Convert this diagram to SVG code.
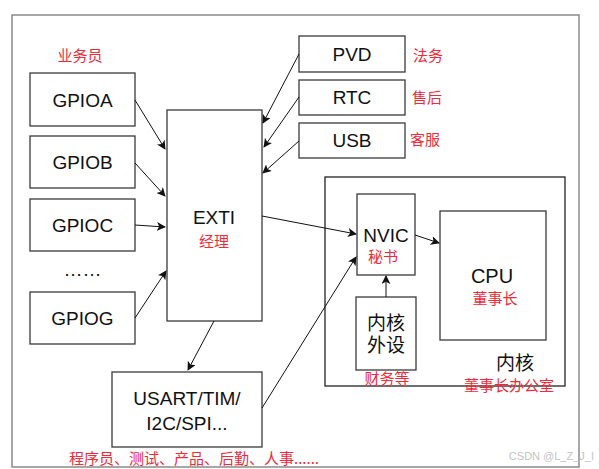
<svg xmlns="http://www.w3.org/2000/svg" width="599" height="469" viewBox="0 0 599 469">
<style>
.box{fill:#fff;stroke:#3a3a3a;stroke-width:1.3}
.t{font-family:"Liberation Sans","Noto Sans CJK SC",sans-serif;font-size:19px;fill:#111;text-anchor:middle}
.r{font-family:"Noto Sans CJK SC","Liberation Sans",sans-serif;font-size:15px;fill:#ee2b3b;text-anchor:middle}
.c{stroke:#111;stroke-width:1;fill:none;marker-end:url(#ah)}
</style>
<defs>
<marker id="ah" viewBox="0 0 10 10" refX="9" refY="5" markerWidth="9" markerHeight="9" markerUnits="userSpaceOnUse" orient="auto">
<path d="M0,0 L10,5 L0,10 L2.5,5 z" fill="#111"/>
</marker>
</defs>
<rect width="599" height="469" fill="#fff"/>
<rect id="frame" x="12" y="15" width="567" height="452" fill="none" stroke="#8a8a8a" stroke-width="1.5"/>
<g id="core-area">
<rect x="325" y="177" width="240" height="209" fill="none" stroke="#222" stroke-width="1.3"/>
<text class="t" x="515" y="370">内核</text>
<text class="r" x="509" y="391">董事长办公室</text>
</g>
<text class="r" x="80" y="61">业务员</text>
<g id="gpioa"><rect class="box" x="30" y="73" width="105" height="53"/><text class="t" x="82.5" y="106.5">GPIOA</text></g>
<g id="gpiob"><rect class="box" x="30" y="136" width="105" height="52"/><text class="t" x="82.5" y="169">GPIOB</text></g>
<g id="gpioc"><rect class="box" x="30" y="199" width="105" height="52"/><text class="t" x="82.5" y="232">GPIOC</text></g>
<text class="t" x="82.5" y="276">……</text>
<g id="gpiog"><rect class="box" x="30" y="292" width="105" height="52"/><text class="t" x="82.5" y="325">GPIOG</text></g>
<g id="exti"><rect class="box" x="167" y="110" width="95" height="211"/><text class="t" x="214" y="224">EXTI</text><text class="r" x="214" y="247">经理</text></g>
<g id="pvd"><rect class="box" x="299" y="36" width="106" height="36"/><text class="t" x="352" y="61">PVD</text><text class="r" x="428" y="61">法务</text></g>
<g id="rtc"><rect class="box" x="299" y="80" width="106" height="35"/><text class="t" x="352" y="104">RTC</text><text class="r" x="427" y="103">售后</text></g>
<g id="usb"><rect class="box" x="299" y="123" width="106" height="35"/><text class="t" x="352" y="147">USB</text><text class="r" x="425" y="145">客服</text></g>
<g id="nvic"><rect class="box" x="357" y="194" width="58" height="81"/><text class="t" x="386" y="242">NVIC</text><text class="r" x="383" y="262">秘书</text></g>
<g id="cpu"><rect class="box" x="440" y="211" width="106" height="129"/><text class="t" x="492" y="283" style="font-size:20px">CPU</text><text class="r" x="495" y="304">董事长</text></g>
<g id="core-periph"><rect class="box" x="356" y="297" width="60" height="73"/><text class="t" x="386" y="330">内核</text><text class="t" x="386" y="352">外设</text><text class="r" x="387" y="384">财务等</text></g>
<g id="usart"><rect class="box" x="112" y="372" width="150" height="75"/><text class="t" x="187" y="405">USART/TIM/</text><text class="t" x="187" y="430">I2C/SPI...</text></g>
<text class="r" x="194" y="464">程序员、测试、产品、后勤、人事......</text>
<g id="connectors">
<line class="c" x1="135" y1="100" x2="165" y2="149"/>
<line class="c" x1="135" y1="163" x2="165" y2="196"/>
<line class="c" x1="135" y1="225" x2="165" y2="227"/>
<line class="c" x1="135" y1="318" x2="166" y2="271"/>
<line class="c" x1="299" y1="54" x2="263" y2="123"/>
<line class="c" x1="299" y1="97" x2="264" y2="147"/>
<line class="c" x1="299" y1="141" x2="263" y2="173"/>
<line class="c" x1="262" y1="216" x2="356" y2="234"/>
<line class="c" x1="214" y1="321" x2="188" y2="370"/>
<line class="c" x1="262" y1="408" x2="356" y2="257"/>
<line class="c" x1="415" y1="235" x2="439" y2="243"/>
<line class="c" x1="386" y1="297" x2="386" y2="276"/>
</g>
<text x="594" y="460" style="font-family:'Liberation Sans',sans-serif;font-size:11px;fill:#c4c4c4;text-anchor:end">CSDN @L_Z_J_I</text>
</svg>
